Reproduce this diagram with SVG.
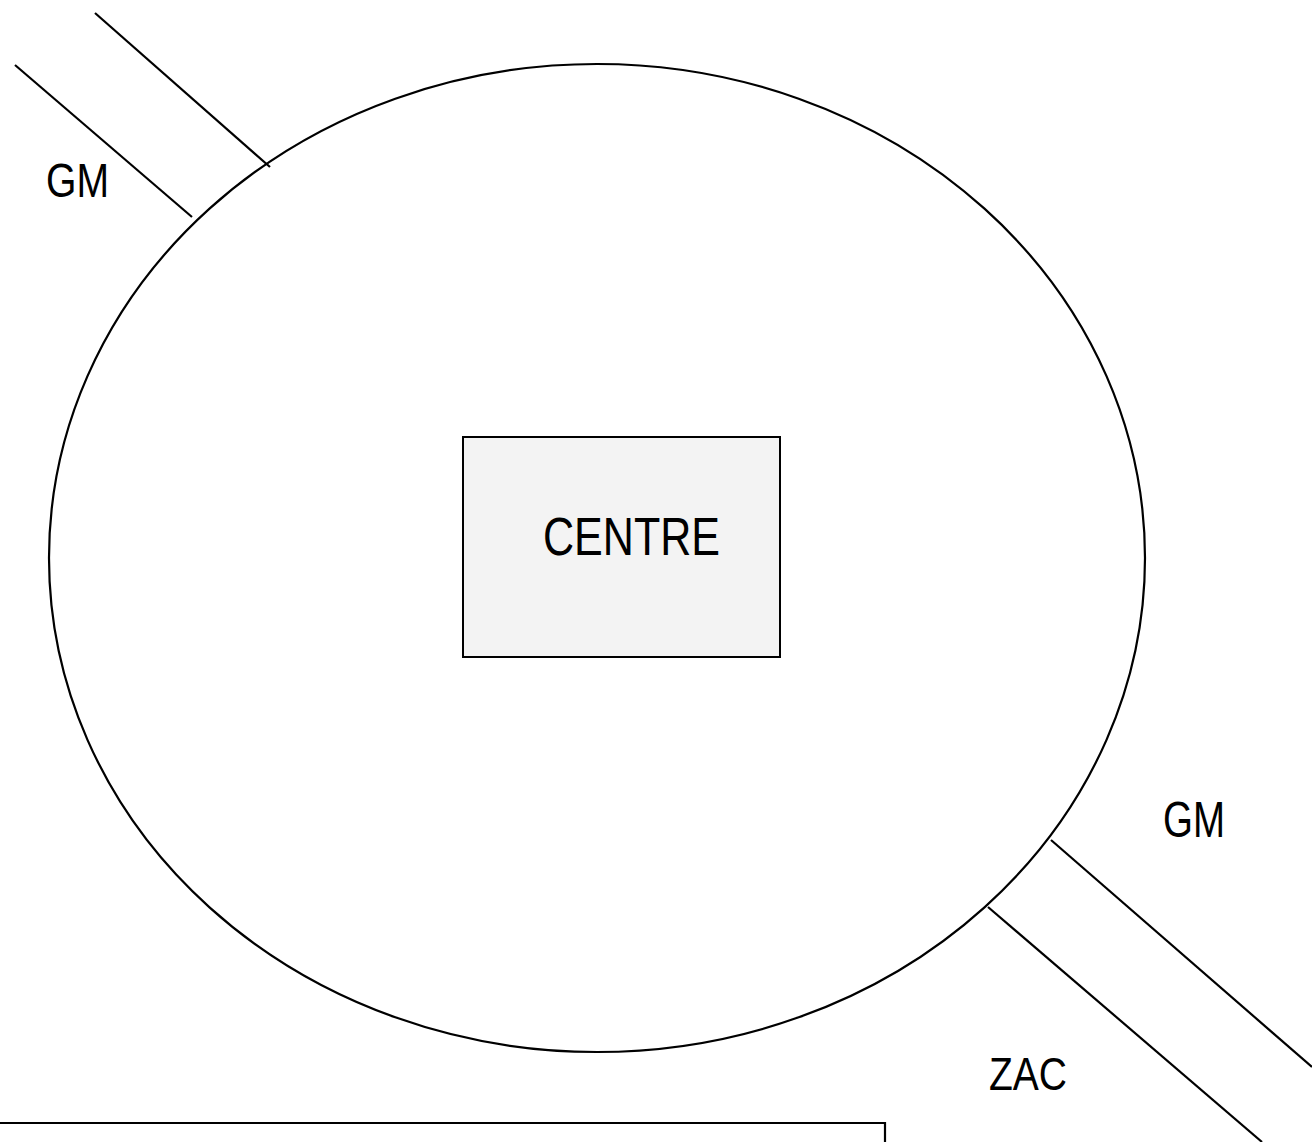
<svg xmlns="http://www.w3.org/2000/svg" width="1312" height="1142" viewBox="0 0 1312 1142">
<style>
.ln{stroke:#000;stroke-width:2.2;fill:none}
.lbl{font-family:"Liberation Sans",Arial,sans-serif;fill:#000}
</style>
<rect width="1312" height="1142" fill="#fff"/>
<g id="zone">
<ellipse class="ln" cx="597" cy="558" rx="548" ry="494"/>
</g>
<g id="centre">
<rect x="463" y="437" width="317" height="220" fill="#f3f3f3" stroke="#000" stroke-width="2"/>
<text class="lbl" x="543" y="555" font-size="53" textLength="177" lengthAdjust="spacingAndGlyphs">CENTRE</text>
</g>
<g id="connectors">
<line class="ln" x1="15" y1="65" x2="192" y2="217"/>
<line class="ln" x1="95" y1="13" x2="270" y2="167"/>
<line class="ln" x1="1051" y1="840" x2="1312" y2="1067"/>
<line class="ln" x1="988" y1="907" x2="1262" y2="1142"/>
</g>
<g id="labels">
<text class="lbl" x="46" y="197" font-size="49" textLength="63" lengthAdjust="spacingAndGlyphs">GM</text>
<text class="lbl" x="1163" y="837" font-size="50" textLength="62" lengthAdjust="spacingAndGlyphs">GM</text>
<text class="lbl" x="989" y="1090" font-size="47" textLength="78" lengthAdjust="spacingAndGlyphs">ZAC</text>
</g>
<g id="panel">
<polyline class="ln" points="0,1123 885,1123 885,1142"/>
</g>
</svg>
